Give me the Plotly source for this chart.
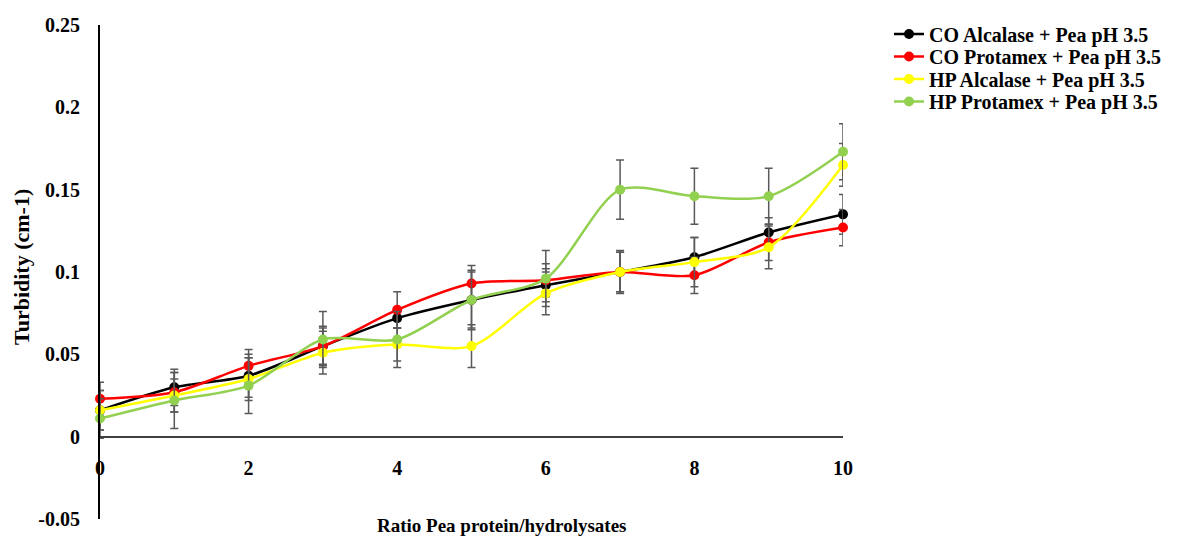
import plotly.graph_objects as go

ratio = [0, 1, 2, 3, 4, 5, 6, 7, 8, 9, 10]

series_names = [
    "CO Alcalase + Pea pH 3.5",
    "CO Protamex + Pea pH 3.5",
    "HP Alcalase + Pea pH 3.5",
    "HP Protamex + Pea pH 3.5",
]

co_alcalase = [0.016, 0.030, 0.037, 0.055, 0.072, 0.083, 0.092, 0.100, 0.109, 0.124, 0.135]
co_protamex = [0.023, 0.027, 0.043, 0.055, 0.077, 0.093, 0.095, 0.100, 0.098, 0.118, 0.127]
hp_alcalase = [0.016, 0.025, 0.035, 0.051, 0.056, 0.055, 0.087, 0.100, 0.106, 0.115, 0.165]
hp_protamex = [0.011, 0.022, 0.031, 0.059, 0.059, 0.083, 0.096, 0.150, 0.146, 0.146, 0.173]

co_alcalase_err = [0.012, 0.011, 0.013, 0.011, 0.006, 0.018, 0.010, 0.012, 0.012, 0.009, 0.012]
co_protamex_err = [0.010, 0.012, 0.010, 0.012, 0.011, 0.011, 0.010, 0.012, 0.011, 0.011, 0.011]
hp_alcalase_err = [0.012, 0.010, 0.013, 0.013, 0.010, 0.013, 0.013, 0.013, 0.015, 0.013, 0.013]
hp_protamex_err = [0.012, 0.017, 0.017, 0.017, 0.017, 0.017, 0.017, 0.018, 0.017, 0.017, 0.017]

colors = ["#000000", "#FF0000", "#FFFF00", "#92D050"]

y_ticks = [-0.05, 0, 0.05, 0.1, 0.15, 0.2, 0.25]
y_tick_labels = ["-0.05", "0", "0.05", "0.1", "0.15", "0.2", "0.25"]
x_ticks = [0, 2, 4, 6, 8, 10]

FONT = "Liberation Serif"
PLOT_TOP, PLOT_BOTTOM, PLOT_LEFT, PLOT_RIGHT = 25, 519, 100, 843
PH = PLOT_BOTTOM - PLOT_TOP
PW = PLOT_RIGHT - PLOT_LEFT

legend_ids = ["legend", "legend2", "legend3", "legend4"]
legend_row_px = [34, 56.5, 79, 101.5]

fig = go.Figure()
for name, vals, errs, col, lid in zip(
    series_names,
    [co_alcalase, co_protamex, hp_alcalase, hp_protamex],
    [co_alcalase_err, co_protamex_err, hp_alcalase_err, hp_protamex_err],
    colors, legend_ids,
):
    fig.add_trace(go.Scatter(
        x=ratio, y=vals, name=name, mode="lines+markers",
        line=dict(color=col, width=2.5, shape="spline", smoothing=0.8),
        marker=dict(color=col, size=10, symbol="circle"),
        error_y=dict(type="data", array=errs, visible=True,
                     color="#595959", thickness=1.5, width=4),
        cliponaxis=False,
        legend=lid,
    ))

legend_layout = {}
for lid, ypx in zip(legend_ids, legend_row_px):
    legend_layout[lid] = dict(
        x=(889 - PLOT_LEFT) / PW, y=(PLOT_BOTTOM - ypx) / PH,
        xanchor="left", yanchor="middle",
        font=dict(family=FONT, size=20, color="#000000", weight="bold"),
        bgcolor="rgba(0,0,0,0)", itemwidth=30,
    )

fig.update_layout(
    width=1180, height=539,
    margin=dict(l=PLOT_LEFT, r=1180 - PLOT_RIGHT, t=PLOT_TOP, b=539 - PLOT_BOTTOM,
                autoexpand=False),
    plot_bgcolor="white", paper_bgcolor="white",
    font=dict(family=FONT, size=18, color="#000000"),
    showlegend=True,
    xaxis=dict(
        range=[0, 10], tickvals=x_ticks, ticktext=[str(t) for t in x_ticks],
        showgrid=False, zeroline=False,
        showline=True, linecolor="#404040", linewidth=2,
        anchor="free", position=1/6, ticks="", ticklabelstandoff=13,
        tickfont=dict(family=FONT, size=20, weight="bold"),
    ),
    yaxis=dict(
        range=[-0.05, 0.25], tickvals=y_ticks, ticktext=y_tick_labels,
        showgrid=False, zeroline=False,
        showline=True, linecolor="#000000", linewidth=2, ticks="",
        ticklabelstandoff=14,
        tickfont=dict(family=FONT, size=20, weight="bold"),
    ),
    annotations=[
        dict(text="Ratio Pea protein/hydrolysates", xref="paper", yref="paper",
             x=(501 - PLOT_LEFT) / PW, y=(PLOT_BOTTOM - 525) / PH,
             xanchor="center", yanchor="middle", showarrow=False,
             font=dict(family=FONT, size=19, weight="bold")),
        dict(text="Turbidity (cm-1)", xref="paper", yref="paper",
             x=(21 - PLOT_LEFT) / PW, y=(PLOT_BOTTOM - 267) / PH,
             xanchor="center", yanchor="middle",
             textangle=-90, showarrow=False,
             font=dict(family=FONT, size=22, weight="bold")),
    ],
    **legend_layout,
)

fig.write_html("out.html")
